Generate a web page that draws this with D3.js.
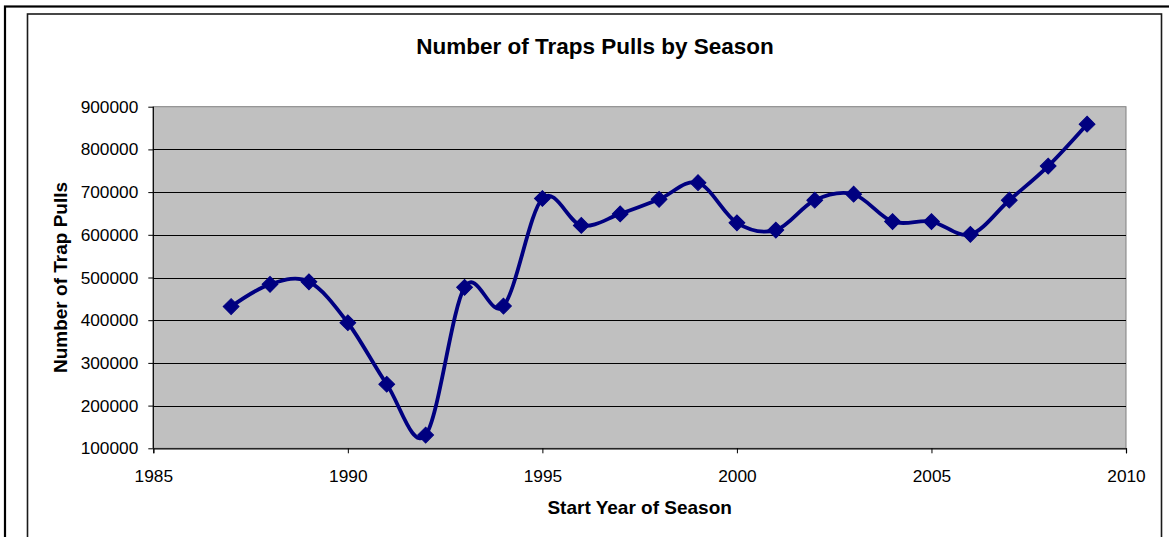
<!DOCTYPE html>
<html>
<head>
<meta charset="utf-8">
<script src="https://cdn.jsdelivr.net/npm/d3@7"></script>
<style>
  html, body { margin: 0; padding: 0; background: #fff; }
  svg { display: block; }
  text { font-family: "Liberation Sans", Arial, sans-serif; fill: #000; }
</style>
</head>
<body>
<svg id="chart" width="1169" height="537"></svg>
<script>
// ---- data ----
const years = [1987, 1988, 1989, 1990, 1991, 1992, 1993, 1994, 1995, 1996, 1997, 1998,
               1999, 2000, 2001, 2002, 2003, 2004, 2005, 2006, 2007, 2008, 2009];
const trapPulls = [432000, 484000, 490000, 394000, 250000, 131000, 477000, 433000, 685000,
                   622000, 649000, 683000, 722000, 628000, 611000, 681000, 695000, 631000,
                   631000, 601000, 681000, 761000, 859000];
const xTicks = [1985, 1990, 1995, 2000, 2005, 2010];
const yTicks = [100000, 200000, 300000, 400000, 500000, 600000, 700000, 800000, 900000];
const chartTitle = "Number of Traps Pulls by Season";
const xTitle = "Start Year of Season";
const yTitle = "Number of Trap Pulls";

const svg = d3.select("#chart");
const W = 1169, H = 537;
const plot = { left: 153.3, right: 1126, top: 106.7, bottom: 448.3 };

// frames
svg.append("rect").attr("x", 5).attr("y", 6.5).attr("width", W + 20).attr("height", H + 20)
  .attr("fill", "none").attr("stroke", "#000").attr("stroke-width", 2.2);
svg.append("rect").attr("x", 27.5).attr("y", 14).attr("width", 1134).attr("height", H + 20)
  .attr("fill", "none").attr("stroke", "#1a1a1a").attr("stroke-width", 1.6);

const x = d3.scaleLinear().domain([1985, 2010]).range([plot.left, plot.right]);
const y = d3.scaleLinear().domain([100000, 900000]).range([plot.bottom, plot.top]);

// plot area
svg.append("rect")
  .attr("x", plot.left).attr("y", plot.top)
  .attr("width", plot.right - plot.left).attr("height", plot.bottom - plot.top)
  .attr("fill", "#c0c0c0").attr("stroke", "#808080").attr("stroke-width", 1);

// gridlines
svg.append("g").selectAll("line").data(yTicks.filter(v => v > 100000 && v < 900000)).join("line")
  .attr("x1", plot.left).attr("x2", plot.right)
  .attr("y1", d => Math.round(y(d)) + 0.5).attr("y2", d => Math.round(y(d)) + 0.5)
  .attr("stroke", "#000").attr("stroke-width", 1);

// axes
const yAxis = svg.append("g").attr("transform", `translate(${plot.left},0)`)
  .call(d3.axisLeft(y).tickValues(yTicks).tickFormat(d3.format("d")).tickSize(5).tickPadding(10));
const xAxis = svg.append("g").attr("transform", `translate(0,${plot.bottom})`)
  .call(d3.axisBottom(x).tickValues(xTicks).tickFormat(d3.format("d")).tickSize(5).tickPadding(16.5));
[yAxis, xAxis].forEach(g => {
  g.select(".domain").attr("stroke", "#000").attr("stroke-width", 1.2);
  g.selectAll(".tick line").attr("stroke", "#000");
  g.selectAll(".tick text").attr("font-size", 17.3).attr("font-family", "Liberation Sans, Arial, sans-serif").attr("fill", "#000");
});
yAxis.select(".domain").attr("d", `M0,${plot.top - 0}V${plot.bottom}`);

// line
const pts = years.map((yr, i) => [yr, trapPulls[i]]);
svg.append("path")
  .datum(pts)
  .attr("d", d3.line().x(d => x(d[0])).y(d => y(d[1])).curve(d3.curveCardinal.tension(0)))
  .attr("fill", "none").attr("stroke", "#000080").attr("stroke-width", 3.8)
  .attr("stroke-linejoin", "round");

// markers (diamonds)
svg.append("g").selectAll("path").data(pts).join("path")
  .attr("d", d3.symbol().type(d3.symbolSquare).size(125))
  .attr("transform", d => `translate(${x(d[0])},${y(d[1])}) rotate(45)`)
  .attr("fill", "#000080").attr("stroke", "#000080").attr("stroke-width", 1);

// titles
svg.append("text").attr("x", 595).attr("y", 54).attr("text-anchor", "middle")
  .attr("font-size", 22.5).attr("font-weight", "bold").text(chartTitle);
svg.append("text").attr("x", (plot.left + plot.right) / 2).attr("y", 514).attr("text-anchor", "middle")
  .attr("font-size", 19).attr("font-weight", "bold").text(xTitle);
svg.append("text").attr("transform", `translate(67,${(plot.top + plot.bottom) / 2}) rotate(-90)`)
  .attr("text-anchor", "middle").attr("font-size", 19).attr("font-weight", "bold").text(yTitle);
</script>
</body>
</html>
